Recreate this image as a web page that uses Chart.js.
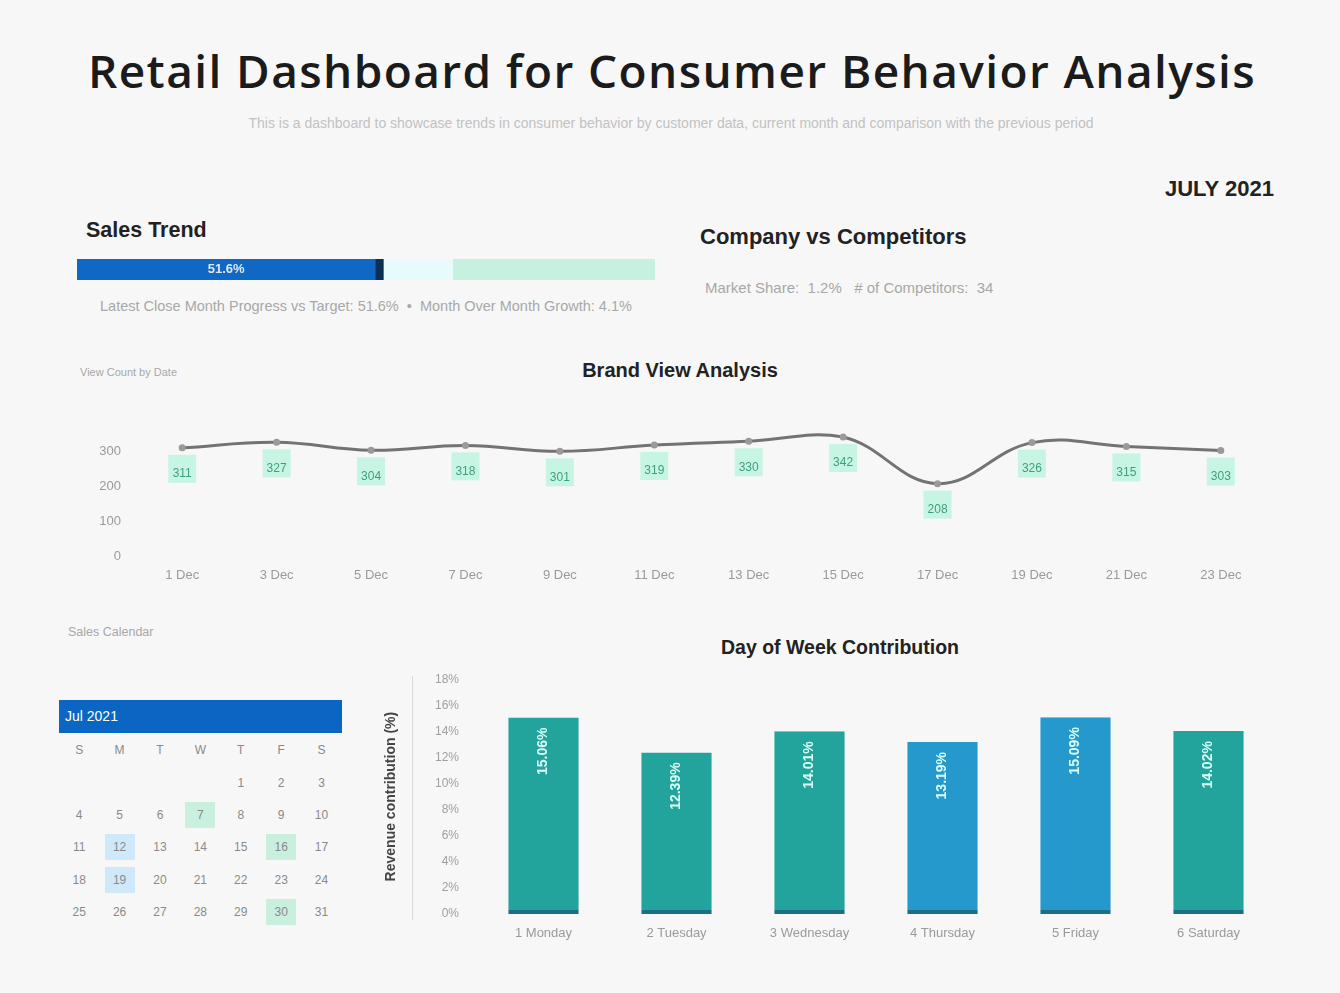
<!DOCTYPE html>
<html><head><meta charset="utf-8">
<script src="https://cdn.jsdelivr.net/npm/chart.js@4.4.1/dist/chart.umd.min.js"></script>
<style>
body{margin:0;background:#f7f7f7;width:1340px;height:993px;overflow:hidden;font-family:"Liberation Sans",Arial,sans-serif;position:relative;}
.abs{position:absolute;white-space:nowrap;}
.h{font-weight:bold;color:#222;}
.g{color:#a8a8a8;}
#cal td{width:40.4px;height:32.4px;text-align:center;vertical-align:middle;font-size:12px;color:#8a8a8a;padding:0;}
#cal td span{display:inline-block;width:30px;line-height:26px;}
#cal .m span{background:#c9efdf;}
#cal .b span{background:#cfe8fa;}
</style></head><body>
<div class="abs h" style="left:0;width:1344px;text-align:center;top:39px;font-family:'Open Sans';font-size:46px;font-weight:600;color:#1b1b1b;letter-spacing:1.4px;">Retail Dashboard for Consumer Behavior Analysis</div>
<div class="abs g" style="left:0;width:1342px;text-align:center;top:115px;font-size:14px;color:#c2c2c2;">This is a dashboard to showcase trends in consumer behavior by customer data, current month and comparison with the previous period</div>
<div class="abs h" style="left:1165px;top:176px;font-size:22px;">JULY 2021</div>
<div class="abs h" style="left:86px;top:218px;font-size:21.5px;">Sales Trend</div>
<div class="abs" style="left:77px;top:259px;width:578px;height:21px;"><canvas id="prog"></canvas></div>
<div class="abs g" style="left:100px;top:298px;font-size:14.5px;">Latest Close Month Progress vs Target: 51.6% &nbsp;•&nbsp; Month Over Month Growth: 4.1%</div>
<div class="abs h" style="left:700px;top:224px;font-size:22px;">Company vs Competitors</div>
<div class="abs g" style="left:705px;top:279px;font-size:15px;">Market Share: &nbsp;1.2% &nbsp;&nbsp;# of Competitors: &nbsp;34</div>
<div class="abs g" style="left:80px;top:366px;font-size:11px;">View Count by Date</div>
<div class="abs h" style="left:0;width:1360px;text-align:center;top:359px;font-size:20px;">Brand View Analysis</div>
<div class="abs" style="left:60px;top:409px;width:1215px;height:187px;"><canvas id="line"></canvas></div>
<div class="abs g" style="left:68px;top:625px;font-size:12.5px;">Sales Calendar</div>
<div class="abs" style="left:59px;top:700px;width:283px;height:33px;background:#0a66c2;color:#fff;font-size:14px;line-height:33px;padding-left:6px;box-sizing:border-box;">Jul 2021</div>
<table id="cal" class="abs" style="left:59px;top:734px;border-collapse:collapse;"></table>
<div class="abs h" style="left:0;width:1680px;text-align:center;top:636px;font-size:19.5px;">Day of Week Contribution</div>
<div class="abs" style="left:412px;top:676px;width:1px;height:244px;background:#dcdcdc;"></div>
<div class="abs" style="left:370px;top:654px;width:905px;height:293px;"><canvas id="bar"></canvas></div>
<script>
// ---- data ----
const progressParts = [51.6, 1.4, 12, 35];
const progressLabel = "51.6%";
const viewDates = ["1 Dec","3 Dec","5 Dec","7 Dec","9 Dec","11 Dec","13 Dec","15 Dec","17 Dec","19 Dec","21 Dec","23 Dec"];
const viewCounts = [311,327,304,318,301,319,330,342,208,326,315,303];
const viewTicks = [0,100,200,300];
const weekdays = ["1 Monday","2 Tuesday","3 Wednesday","4 Thursday","5 Friday","6 Saturday"];
const dayShare = [15.06,12.39,14.01,13.19,15.09,14.02];
const calDayNames = ["S","M","T","W","T","F","S"];
const calFirstWeekday = 4; // Thursday
const calDays = 31;
const calMint = [7,16,30];
const calBlue = [12,19];

// ---- calendar ----
(function(){
  const t=document.getElementById('cal');
  let html='<tr>'+calDayNames.map(d=>'<td><span>'+d+'</span></td>').join('')+'</tr>';
  let cells=[];for(let i=0;i<calFirstWeekday;i++)cells.push('');
  for(let d=1;d<=calDays;d++)cells.push(d);
  while(cells.length%7)cells.push('');
  for(let r=0;r<cells.length/7;r++){
    html+='<tr>';
    for(let c=0;c<7;c++){const d=cells[r*7+c];
      const cls=calMint.includes(d)?'m':(calBlue.includes(d)?'b':'');
      html+='<td class="'+cls+'"><span>'+d+'</span></td>';}
    html+='</tr>';
  }
  t.innerHTML=html;
})();

Chart.defaults.font.family='"Liberation Sans", Arial, sans-serif';
Chart.defaults.animation=false;

// ---- progress bar ----
const progColors=['#1168c4','#0b2f55','#e8fafb','#c6f0df'];
new Chart(document.getElementById('prog'),{
  type:'bar',
  data:{labels:[''],datasets:progressParts.map((v,i)=>({data:[v],backgroundColor:progColors[i],barPercentage:1,categoryPercentage:1}))},
  options:{indexAxis:'y',responsive:true,maintainAspectRatio:false,
    plugins:{legend:{display:false},tooltip:{enabled:false}},
    layout:{padding:0},
    scales:{x:{stacked:true,min:0,max:100,display:false},y:{stacked:true,display:false}}},
  plugins:[{id:'pl',afterDatasetsDraw(c){const m=c.getDatasetMeta(0).data[0];const ctx=c.ctx;ctx.save();
    ctx.fillStyle='#dfe9f3';ctx.font='bold 13px "Liberation Sans"';ctx.textAlign='center';ctx.textBaseline='middle';
    ctx.fillText(progressLabel,(m.base+m.x)/2,m.y);ctx.restore();}}]
});

// ---- line chart ----
new Chart(document.getElementById('line'),{
  type:'line',
  data:{labels:viewDates,datasets:[{data:viewCounts,borderColor:'#737373',borderWidth:3,tension:0.4,
    pointRadius:2,pointBackgroundColor:'#9a9a9a',pointBorderColor:'#9a9a9a'}]},
  options:{responsive:true,maintainAspectRatio:false,
    layout:{padding:{top:9,right:0,left:0,bottom:0}},
    plugins:{legend:{display:false},tooltip:{enabled:false}},
    scales:{
      x:{offset:true,grid:{display:false,drawTicks:false},border:{display:false},
        ticks:{color:'#9a9a9a',font:{size:13},padding:12,maxRotation:0},
        afterFit(s){s.height=40;}},
      y:{min:0,max:360,grid:{display:false,drawTicks:false},border:{display:false},
        afterBuildTicks(s){s.ticks=viewTicks.map(v=>({value:v}));},
        ticks:{color:'#9a9a9a',font:{size:13},padding:14},
        afterFit(s){s.width=75;}}
    }},
  plugins:[{id:'vl',afterDatasetsDraw(c){const ctx=c.ctx;ctx.save();
    c.getDatasetMeta(0).data.forEach((p,i)=>{
      ctx.fillStyle='rgba(190,245,225,0.85)';ctx.fillRect(p.x-14,p.y+7,28,28);
      ctx.fillStyle='#3f9e80';ctx.font='12px "Liberation Sans"';ctx.textAlign='center';ctx.textBaseline='middle';
      ctx.fillText(String(viewCounts[i]),p.x,p.y+26);});
    ctx.restore();}}]
});

// ---- bar chart ----
const barColors=['#22a39b','#22a39b','#22a39b','#2599cc','#2599cc','#22a39b'];
new Chart(document.getElementById('bar'),{
  type:'bar',
  data:{labels:weekdays,datasets:[{data:dayShare,backgroundColor:barColors,borderColor:'#1c6f86',
    borderWidth:{top:0,left:0,right:0,bottom:4},borderSkipped:false,barPercentage:0.53,categoryPercentage:1}]},
  options:{responsive:true,maintainAspectRatio:false,
    layout:{padding:{top:6,right:0,left:0,bottom:0}},
    plugins:{legend:{display:false},tooltip:{enabled:false}},
    scales:{
      x:{grid:{display:false,drawTicks:false},border:{display:false},
        ticks:{color:'#9a9a9a',font:{size:13},padding:12,maxRotation:0},
        afterFit(s){s.height=33;}},
      y:{min:0,max:18,grid:{display:false,drawTicks:false},border:{display:false},
        ticks:{stepSize:2,color:'#a0a0a0',font:{size:12},padding:18,callback:v=>v+'%'},
        title:{display:true,text:'Revenue contribution (%)',color:'#444',font:{size:14,weight:'bold'},padding:{top:13,bottom:0}},
        afterFit(s){s.width=107;}}
    }},
  plugins:[{id:'bl',afterDatasetsDraw(c){const ctx=c.ctx;ctx.save();
    c.getDatasetMeta(0).data.forEach((b,i)=>{
      ctx.save();ctx.translate(b.x,b.y+10);ctx.rotate(-Math.PI/2);
      ctx.fillStyle='#d9fff7';ctx.font='bold 14px "Liberation Sans"';ctx.textAlign='right';ctx.textBaseline='middle';
      ctx.fillText(dayShare[i].toFixed(2)+'%',0,0);ctx.restore();});
    ctx.restore();}}]
});
</script>
</body></html>
